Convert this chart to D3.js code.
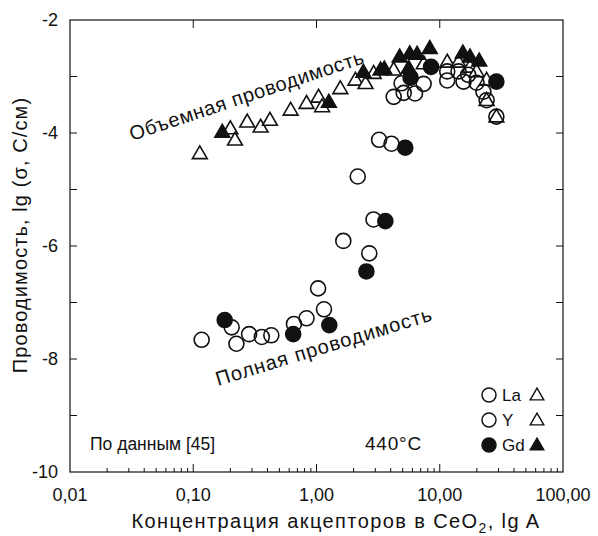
<!DOCTYPE html>
<html>
<head>
<meta charset="utf-8">
<script src="https://cdn.jsdelivr.net/npm/d3@7"></script>
<style>
  body { margin: 0; background: #fff; }
  svg text { font-family: "Liberation Sans", Arial, sans-serif; fill: #111; }
</style>
</head>
<body>
<svg id="chart" width="598" height="536"></svg>
<script>
// values: [concentration, lg sigma]
var bulkOpen = [
  [0.113, -4.36], [0.20, -3.92], [0.218, -4.12], [0.274, -3.80], [0.352, -3.89],
  [0.419, -3.77], [0.617, -3.59], [0.83, -3.47], [1.04, -3.36], [1.11, -3.53],
  [1.56, -3.21], [2.07, -3.06], [2.5, -3.12], [2.91, -2.94], [4.23, -2.88],
  [7.42, -2.77], [11.5, -2.74], [14.2, -2.74], [17.6, -2.83], [19.9, -2.91],
  [24.0, -3.06], [24.0, -3.42], [28.8, -3.71]
];
var bulkGd = [
  [0.172, -3.98], [1.26, -3.45], [2.4, -2.92], [3.31, -2.88], [3.55, -2.86],
  [4.73, -2.65], [5.6, -2.85], [5.71, -2.59], [6.55, -2.60], [8.3, -2.50],
  [15.4, -2.58], [17.6, -2.65], [20.9, -2.72]
];
var totalOpen = [
  [0.117, -7.66], [0.205, -7.44], [0.224, -7.73], [0.284, -7.56], [0.36, -7.61],
  [0.43, -7.58], [0.656, -7.38], [0.83, -7.28], [1.03, -6.75], [1.15, -7.12],
  [1.65, -5.91], [2.16, -4.77], [2.68, -6.13], [2.9, -5.53], [3.22, -4.12],
  [4.06, -4.19], [4.23, -3.36], [4.9, -3.12], [5.1, -3.29], [6.3, -3.30],
  [7.4, -3.13], [11.5, -2.91], [11.5, -3.07], [14.2, -2.91], [15.6, -3.09],
  [17.0, -2.97], [19.9, -3.11], [22.6, -3.27], [24.0, -3.42], [28.8, -3.71]
];
var totalGd = [
  [0.18, -7.31], [0.647, -7.56], [1.27, -7.40], [2.54, -6.45], [3.62, -5.56],
  [5.25, -4.26], [5.8, -3.02], [8.5, -2.83], [28.8, -3.09]
];

var xTicks = [0.01, 0.1, 1, 10, 100];
var xTickLabels = ["0,01", "0,10", "1,00", "10,00", "100,00"];
var yTicks = [-10, -8, -6, -4, -2];
var legendRows = ["La", "Y", "Gd"];

var svg = d3.select("#chart");
var pLeft = 70, pRight = 563, pTop = 20, pBottom = 472;

var xScale = d3.scaleLog().domain([0.01, 100]).range([pLeft, pRight]);
var yScale = d3.scaleLinear().domain([-10, -2]).range([pBottom, pTop]);

// frame
svg.append("rect")
  .attr("x", pLeft).attr("y", pTop)
  .attr("width", pRight - pLeft).attr("height", pBottom - pTop)
  .style("fill", "none").style("stroke", "#111").style("stroke-width", 1.2);

// minor x ticks
var minor = [];
xTicks.slice(0, -1).forEach(function (t) {
  for (var k = 2; k <= 9; k++) minor.push(t * k);
});

var axes = svg.append("g");

axes.selectAll(".xminor")
  .data(minor)
  .enter()
  .append("line")
  .attr("x1", d => xScale(d)).attr("x2", d => xScale(d))
  .attr("y1", pBottom).attr("y2", pBottom - 4)
  .style("stroke", "#111");

var xMajorInner = xTicks.slice(1, -1);
axes.selectAll(".xmajorb")
  .data(xMajorInner)
  .enter()
  .append("line")
  .attr("x1", d => xScale(d)).attr("x2", d => xScale(d))
  .attr("y1", pBottom).attr("y2", pBottom - 8)
  .style("stroke", "#111");

axes.selectAll(".xmajort")
  .data(xMajorInner)
  .enter()
  .append("line")
  .attr("x1", d => xScale(d)).attr("x2", d => xScale(d))
  .attr("y1", pTop).attr("y2", pTop + 8)
  .style("stroke", "#111");

var yAll = d3.range(-9, -2);
axes.selectAll(".yl")
  .data(yAll)
  .enter()
  .append("line")
  .attr("x1", pLeft).attr("x2", pLeft + 7)
  .attr("y1", d => yScale(d)).attr("y2", d => yScale(d))
  .style("stroke", "#111");
axes.selectAll(".yr")
  .data(yAll)
  .enter()
  .append("line")
  .attr("x1", pRight).attr("x2", pRight - 7)
  .attr("y1", d => yScale(d)).attr("y2", d => yScale(d))
  .style("stroke", "#111");

axes.selectAll(".xlab")
  .data(xTicks)
  .enter()
  .append("text")
  .attr("x", d => xScale(d))
  .attr("y", 501)
  .attr("text-anchor", "middle")
  .style("font-size", "18px")
  .text((d, i) => xTickLabels[i]);

axes.selectAll(".ylab")
  .data(yTicks)
  .enter()
  .append("text")
  .attr("x", 58)
  .attr("y", d => yScale(d) + 6)
  .attr("text-anchor", "end")
  .style("font-size", "18px")
  .text(d => d);

// axis titles
var xt = svg.append("text")
  .attr("x", 336).attr("y", 528)
  .attr("text-anchor", "middle")
  .style("font-size", "20px")
  .style("letter-spacing", "1.4px");
xt.append("tspan").text("Концентрация акцепторов в CeO");
xt.append("tspan").attr("dy", 5).style("font-size", "14px").text("2");
xt.append("tspan").attr("dy", -5).text(", lg A");

svg.append("text")
  .attr("transform", "translate(27,235) rotate(-90)")
  .attr("text-anchor", "middle")
  .style("font-size", "20px")
  .style("letter-spacing", "1.1px")
  .text("Проводимость, lg (σ, С/см)");

// markers
var tri = d3.symbol().type(d3.symbolTriangle).size(95);

var layer = svg.append("g");

function circles(data, filled) {
  layer.selectAll(null)
    .data(data)
    .enter()
    .append("circle")
    .attr("cx", d => xScale(d[0]))
    .attr("cy", d => yScale(d[1]))
    .attr("r", 7.5)
    .style("fill", filled ? "#111" : "#fff")
    .style("fill-opacity", filled ? 1 : 0)
    .style("stroke", "#111")
    .style("stroke-width", 1.6);
}
function triangles(data, filled) {
  layer.selectAll(null)
    .data(data)
    .enter()
    .append("path")
    .attr("d", tri)
    .attr("transform", d => "translate(" + xScale(d[0]) + "," + (yScale(d[1]) + 1) + ")")
    .style("fill", filled ? "#111" : "#fff")
    .style("stroke", "#111")
    .style("stroke-width", 1.6);
}

triangles(bulkOpen, false);
circles(totalOpen, false);
triangles(bulkGd, true);
circles(totalGd, true);

// annotations
svg.append("text")
  .attr("transform", "translate(132,141) rotate(-18.5)")
  .style("font-size", "20px")
  .style("letter-spacing", "0.6px")
  .text("Объемная проводимость");

svg.append("text")
  .attr("transform", "translate(218,386) rotate(-17)")
  .style("font-size", "20px")
  .style("letter-spacing", "1px")
  .text("Полная проводимость");

svg.append("text")
  .attr("x", 90).attr("y", 450)
  .style("font-size", "17.5px")
  .text("По данным [45]");

svg.append("text")
  .attr("x", 365).attr("y", 450)
  .style("font-size", "19px")
  .style("letter-spacing", "0.8px")
  .text("440°C");

// legend
var leg = svg.append("g");
leg.selectAll(".lc")
  .data(legendRows)
  .enter()
  .append("circle")
  .attr("cx", 489)
  .attr("cy", (d, i) => 395 + i * 25)
  .attr("r", 7)
  .style("fill", d => d === "Gd" ? "#111" : "#fff")
  .style("stroke", "#111")
  .style("stroke-width", 1.5);
leg.selectAll(".lt")
  .data(legendRows)
  .enter()
  .append("text")
  .attr("x", 502)
  .attr("y", (d, i) => 401 + i * 25)
  .style("font-size", "17px")
  .text(d => d);
leg.selectAll(".lp")
  .data(legendRows)
  .enter()
  .append("path")
  .attr("d", d3.symbol().type(d3.symbolTriangle).size(80))
  .attr("transform", (d, i) => "translate(537," + (396 + i * 25) + ")")
  .style("fill", d => d === "Gd" ? "#111" : "#fff")
  .style("stroke", "#111")
  .style("stroke-width", 1.4);
</script>
</body>
</html>
